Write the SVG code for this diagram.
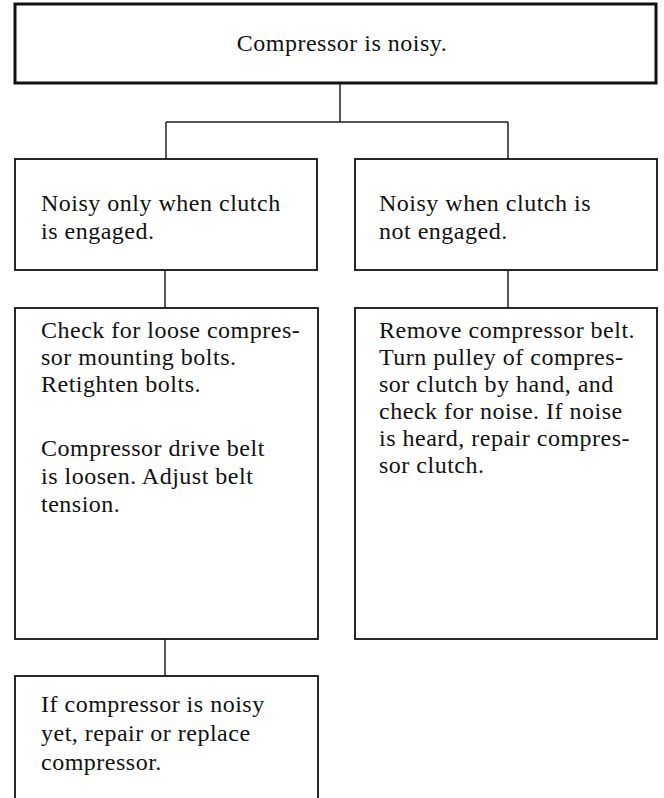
<svg xmlns="http://www.w3.org/2000/svg" width="664" height="798" viewBox="0 0 664 798">
<style>
  .box { fill: none; stroke: #111; stroke-width: 1.8; }
  .top { fill: none; stroke: #111; stroke-width: 3; }
  .conn { fill: none; stroke: #222; stroke-width: 1.5; }
  text { font-family: "Liberation Serif", "Times New Roman", serif; font-size: 24px; letter-spacing: 0.5px; fill: #111; }
</style>
<rect width="664" height="798" fill="#fff"/>
<g id="connectors">
  <path class="conn" d="M340 83 V122 M166 122 H508 M166 122 V159 M508 122 V159"/>
  <path class="conn" d="M165 270 V308 M508 270 V308"/>
  <path class="conn" d="M165 639 V676"/>
</g>
<g id="n-top">
  <rect class="top" x="15" y="4" width="641" height="79"/>
  <text x="342" y="51" text-anchor="middle" letter-spacing="1">Compressor is noisy.</text>
</g>
<g id="n-engaged">
  <rect class="box" x="15" y="159" width="302" height="111"/>
  <text x="41" y="211">Noisy only when clutch</text>
  <text x="41" y="239">is engaged.</text>
</g>
<g id="n-not-engaged">
  <rect class="box" x="355" y="159" width="302" height="111"/>
  <text x="379" y="211">Noisy when clutch is</text>
  <text x="379" y="239">not engaged.</text>
</g>
<g id="n-check">
  <rect class="box" x="15" y="308" width="303" height="331"/>
  <text x="41" y="338">Check for loose compres-</text>
  <text x="41" y="365">sor mounting bolts.</text>
  <text x="41" y="392">Retighten bolts.</text>
  <text x="41" y="456">Compressor drive belt</text>
  <text x="41" y="484">is loosen.  Adjust belt</text>
  <text x="41" y="512">tension.</text>
</g>
<g id="n-remove">
  <rect class="box" x="355" y="308" width="302" height="331"/>
  <text x="379" y="338" letter-spacing="1">Remove compressor belt.</text>
  <text x="379" y="365">Turn pulley of compres-</text>
  <text x="379" y="392">sor clutch by hand, and</text>
  <text x="379" y="419">check for noise.  If noise</text>
  <text x="379" y="446">is heard, repair compres-</text>
  <text x="379" y="473">sor clutch.</text>
</g>
<g id="n-replace">
  <rect class="box" x="15" y="676" width="303" height="160"/>
  <text x="41" y="712">If compressor is noisy</text>
  <text x="41" y="741">yet, repair or replace</text>
  <text x="41" y="770">compressor.</text>
</g>
</svg>
